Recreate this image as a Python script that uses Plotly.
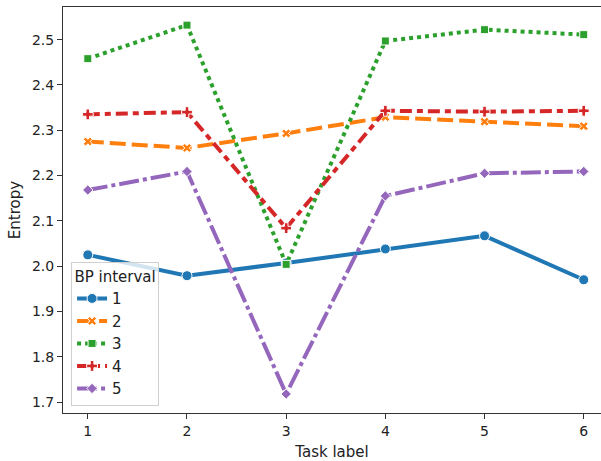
import plotly.graph_objects as go

tasks = [1, 2, 3, 4, 5, 6]
series_names = ["1", "2", "3", "4", "5"]
bp1 = [2.025, 1.979, 2.007, 2.038, 2.067, 1.970]
bp2 = [2.275, 2.261, 2.293, 2.329, 2.319, 2.309]
bp3 = [2.458, 2.532, 2.004, 2.497, 2.522, 2.511]
bp4 = [2.335, 2.340, 2.084, 2.343, 2.341, 2.343]
bp5 = [2.168, 2.209, 1.718, 2.155, 2.205, 2.209]
values = [bp1, bp2, bp3, bp4, bp5]
y_ticks = [1.7, 1.8, 1.9, 2.0, 2.1, 2.2, 2.3, 2.4, 2.5]

colors = ["#1f77b4", "#ff7f0e", "#2ca02c", "#d62728", "#9467bd"]
dashes = ["solid", "16px,6px", "4px,4px", "12px,5px,6px,5px", "20px,4px,4px,4px"]
symbols = ["circle", "x", "square", "cross", "diamond"]
sizes = [10, 8, 8, 9, 8]

fig = go.Figure()
for name, vals, c, d, s, sz in zip(series_names, values, colors, dashes, symbols, sizes):
    fig.add_trace(go.Scatter(
        x=tasks, y=vals, name=name, mode="lines+markers",
        line=dict(color=c, width=4, dash=d),
        marker=dict(symbol=s, size=sz, color=c, line=dict(color="white", width=1)),
    ))

font = "DejaVu Sans, sans-serif"
fig.update_layout(
    width=601, height=461,
    margin=dict(l=63, r=0, t=7, b=48),
    paper_bgcolor="white", plot_bgcolor="white",
    font=dict(family=font, size=14, color="#222"),
    showlegend=True,
    legend=dict(
        title=dict(text="BP interval", font=dict(size=15), side="top center"),
        font=dict(size=15),
        x=0.015, y=0.018, xanchor="left", yanchor="bottom",
        bgcolor="rgba(255,255,255,0.8)", bordercolor="#d0d0d0", borderwidth=1,
        tracegroupgap=0, itemwidth=30,
    ),
    xaxis=dict(
        range=[0.75, 6.174], tickvals=tasks, ticktext=[str(t) for t in tasks],
        showgrid=False, zeroline=False,
        showline=True, linecolor="#333", linewidth=1, mirror=True,
        ticks="outside", ticklen=5, tickcolor="#333",
        tickfont=dict(size=14),
        title=dict(text="Task label", font=dict(size=15), standoff=9),
    ),
    yaxis=dict(
        range=[1.676, 2.572], tickvals=y_ticks, ticktext=[f"{v:.1f}" for v in y_ticks],
        showgrid=False, zeroline=False,
        showline=True, linecolor="#333", linewidth=1, mirror=False,
        ticks="outside", ticklen=5, tickcolor="#333",
        tickfont=dict(size=14),
        title=dict(text="Entropy", font=dict(size=15), standoff=7),
    ),
)

fig.write_html("out.html")
